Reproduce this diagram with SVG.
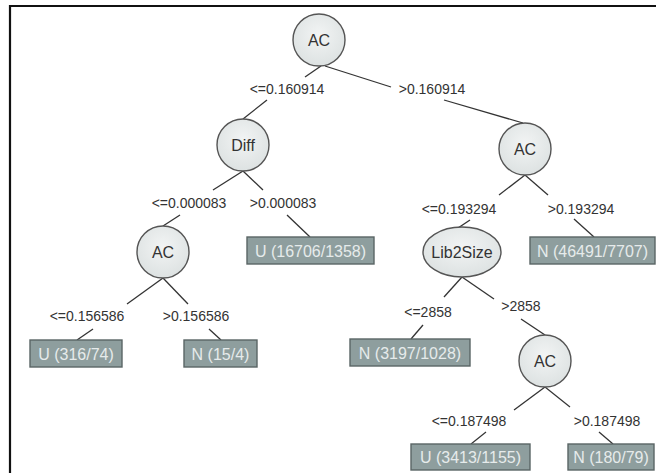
<svg xmlns="http://www.w3.org/2000/svg" width="656" height="473" viewBox="0 0 656 473">
<defs>
<radialGradient id="ng" cx="0.5" cy="0.4" r="0.6">
<stop offset="0" stop-color="#f2f4f4"/>
<stop offset="1" stop-color="#dde2e2"/>
</radialGradient>
<style>
.nd{fill:url(#ng);stroke:#555;stroke-width:1.4}
.lf{fill:#8e9e9e;stroke:#5a6565;stroke-width:1.4}
.nt{font-family:"Liberation Sans",Arial,sans-serif;font-size:16px;fill:#333;text-anchor:middle}
.lt{font-family:"Liberation Sans",Arial,sans-serif;font-size:16px;fill:#e6ebeb;text-anchor:middle}
.el{font-family:"Liberation Sans",Arial,sans-serif;font-size:14px;fill:#333;text-anchor:middle}
.cn line{stroke:#333;stroke-width:1.3}
</style>
</defs>
<rect width="656" height="473" fill="#fff"/>
<path d="M10,473 V6 H656" fill="none" stroke="#111" stroke-width="2.2"/>
<g id="connectors" class="cn">
<line x1="321" y1="66" x2="305" y2="77"/>
<line x1="267" y1="100" x2="243" y2="119"/>
<line x1="325" y1="66" x2="391" y2="87"/>
<line x1="444" y1="100" x2="523" y2="123"/>
<line x1="243" y1="171" x2="213" y2="190"/>
<line x1="243" y1="171" x2="263" y2="190"/>
<line x1="180" y1="215" x2="163" y2="226"/>
<line x1="287" y1="215" x2="310" y2="237"/>
<line x1="163" y1="278" x2="127" y2="304"/>
<line x1="163" y1="278" x2="188" y2="304"/>
<line x1="93" y1="329" x2="77" y2="340"/>
<line x1="209" y1="329" x2="221" y2="340"/>
<line x1="525" y1="175" x2="499" y2="195"/>
<line x1="525" y1="175" x2="548" y2="195"/>
<line x1="470" y1="220" x2="458" y2="228"/>
<line x1="574" y1="219" x2="594" y2="237"/>
<line x1="462" y1="277" x2="444" y2="297"/>
<line x1="462" y1="277" x2="494" y2="299"/>
<line x1="423" y1="325" x2="411" y2="339"/>
<line x1="521" y1="319" x2="545" y2="335"/>
<line x1="545" y1="387" x2="514" y2="410"/>
<line x1="545" y1="387" x2="570" y2="407"/>
<line x1="486" y1="432" x2="471" y2="444"/>
<line x1="599" y1="432" x2="613" y2="444"/>
</g>
<g id="edge-labels">
<text class="el" x="287" y="94">&lt;=0.160914</text>
<text class="el" x="432" y="94">&gt;0.160914</text>
<text class="el" x="189" y="208">&lt;=0.000083</text>
<text class="el" x="283" y="208">&gt;0.000083</text>
<text class="el" x="87" y="321">&lt;=0.156586</text>
<text class="el" x="196" y="321">&gt;0.156586</text>
<text class="el" x="459" y="214">&lt;=0.193294</text>
<text class="el" x="581" y="214">&gt;0.193294</text>
<text class="el" x="428" y="317">&lt;=2858</text>
<text class="el" x="521" y="311">&gt;2858</text>
<text class="el" x="469" y="426">&lt;=0.187498</text>
<text class="el" x="607" y="426">&gt;0.187498</text>
</g>
<g id="n-root"><circle class="nd" cx="319" cy="40" r="26"/><text class="nt" x="319" y="46">AC</text></g>
<g id="n-diff"><circle class="nd" cx="243" cy="145" r="26"/><text class="nt" x="243" y="151">Diff</text></g>
<g id="n-ac-left"><circle class="nd" cx="163" cy="252" r="26"/><text class="nt" x="163" y="258">AC</text></g>
<g id="n-ac-right"><circle class="nd" cx="525" cy="149" r="26"/><text class="nt" x="525" y="155">AC</text></g>
<g id="n-lib2size"><ellipse class="nd" cx="462" cy="252" rx="39" ry="25"/><text class="nt" x="462" y="258">Lib2Size</text></g>
<g id="n-ac-bottom"><circle class="nd" cx="545" cy="361" r="26"/><text class="nt" x="545" y="367">AC</text></g>
<g id="l-u16706"><rect class="lf" x="247" y="237" width="127" height="27"/><text class="lt" x="310.5" y="256.5">U (16706/1358)</text></g>
<g id="l-u316"><rect class="lf" x="30" y="340" width="92" height="27"/><text class="lt" x="76" y="359.5">U (316/74)</text></g>
<g id="l-n15"><rect class="lf" x="184" y="340" width="73" height="27"/><text class="lt" x="220.5" y="359.5">N (15/4)</text></g>
<g id="l-n46491"><rect class="lf" x="530" y="237" width="125" height="27"/><text class="lt" x="592.5" y="256.5">N (46491/7707)</text></g>
<g id="l-n3197"><rect class="lf" x="350" y="339" width="120" height="27"/><text class="lt" x="410" y="358.5">N (3197/1028)</text></g>
<g id="l-u3413"><rect class="lf" x="411" y="444" width="119" height="26"/><text class="lt" x="470.5" y="463">U (3413/1155)</text></g>
<g id="l-n180"><rect class="lf" x="568" y="444" width="86" height="26"/><text class="lt" x="611" y="463">N (180/79)</text></g>
</svg>
